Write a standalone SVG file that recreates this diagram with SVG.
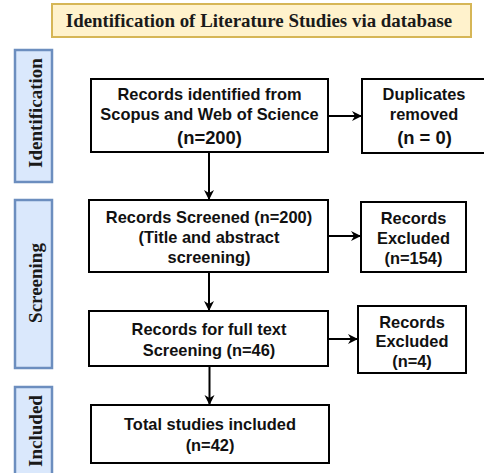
<svg xmlns="http://www.w3.org/2000/svg" width="484" height="473" viewBox="0 0 484 473">
<style>
.box{fill:#fff;stroke:#000;stroke-width:2}
.side{fill:#dae8fc;stroke:#6c8ebf;stroke-width:2.5}
.side-t{font-family:"Liberation Serif","Times New Roman",serif;font-weight:bold;font-size:19px;fill:#1a1a1a;text-anchor:middle}
.t{font-family:"Liberation Sans",Arial,sans-serif;font-weight:bold;font-size:16.4px;fill:#111;text-anchor:middle}
.n{font-size:18.4px}
.edge{stroke:#000;stroke-width:2;fill:none;marker-end:url(#arr)}
</style>
<defs>
<marker id="arr" markerUnits="userSpaceOnUse" markerWidth="12" markerHeight="12" viewBox="0 0 12 12" refX="11" refY="6" orient="auto">
<path d="M1,1 L11,6 L1,11 L4,6 z" fill="#000"/>
</marker>
</defs>
<g id="title">
<rect x="52" y="4" width="419" height="33" fill="#fff2cc" stroke="#d6b656" stroke-width="2"/>
<text x="259" y="27" font-family="'Liberation Serif','Times New Roman',serif" font-weight="bold" font-size="18.9" fill="#1a1a1a" text-anchor="middle">Identification of Literature Studies via database</text>
</g>
<g id="lane-identification">
<rect class="side" x="15" y="50" width="37" height="132"/>
<text class="side-t" transform="translate(42,113) rotate(-90)">Identification</text>
</g>
<g id="lane-screening">
<rect class="side" x="15" y="200" width="37" height="168"/>
<text class="side-t" transform="translate(42,283) rotate(-90)">Screening</text>
</g>
<g id="lane-included">
<rect class="side" x="15" y="387" width="37" height="95"/>
<text class="side-t" transform="translate(42,431) rotate(-90)">Included</text>
</g>
<g id="records-identified">
<rect class="box" x="91" y="79" width="237" height="73"/>
<text class="t" x="209.5" y="99.5">Records identified from</text>
<text class="t" x="209.5" y="119.5">Scopus and Web of Science</text>
<text class="t n" x="209.5" y="143.5">(n=200)</text>
</g>
<g id="duplicates">
<rect class="box" x="362" y="79" width="126" height="74"/>
<text class="t" x="424" y="100">Duplicates</text>
<text class="t" x="424" y="120">removed</text>
<text class="t n" x="424.5" y="144">(n = 0)</text>
</g>
<g id="records-screened">
<rect class="box" x="89" y="200" width="239" height="72"/>
<text class="t" x="209" y="222.5">Records Screened (n=200)</text>
<text class="t" x="209" y="242.5">(Title and abstract</text>
<text class="t" x="209" y="262.5">screening)</text>
</g>
<g id="excluded-154">
<rect class="box" x="361" y="202" width="105" height="70"/>
<text class="t" x="413.5" y="223.5">Records</text>
<text class="t" x="413.5" y="243.5">Excluded</text>
<text class="t" x="413.5" y="263.5">(n=154)</text>
</g>
<g id="full-text">
<rect class="box" x="89" y="311" width="239" height="55"/>
<text class="t" x="209" y="335">Records for full text</text>
<text class="t" x="209" y="355.5">Screening (n=46)</text>
</g>
<g id="excluded-4">
<rect class="box" x="358" y="306" width="108" height="67"/>
<text class="t" x="412" y="328">Records</text>
<text class="t" x="412" y="347">Excluded</text>
<text class="t" x="412" y="366.5">(n=4)</text>
</g>
<g id="included-total">
<rect class="box" x="91" y="405" width="238" height="58"/>
<text class="t" x="210" y="430">Total studies included</text>
<text class="t" x="210" y="450.5">(n=42)</text>
</g>
<g id="connectors">
<path class="edge" d="M328,116 L362,116"/>
<path class="edge" d="M209,152 L209,200"/>
<path class="edge" d="M328,236 L361,236"/>
<path class="edge" d="M209,272 L209,311"/>
<path class="edge" d="M328,339 L358,339"/>
<path class="edge" d="M209.5,366 L209.5,405"/>
</g>
</svg>
